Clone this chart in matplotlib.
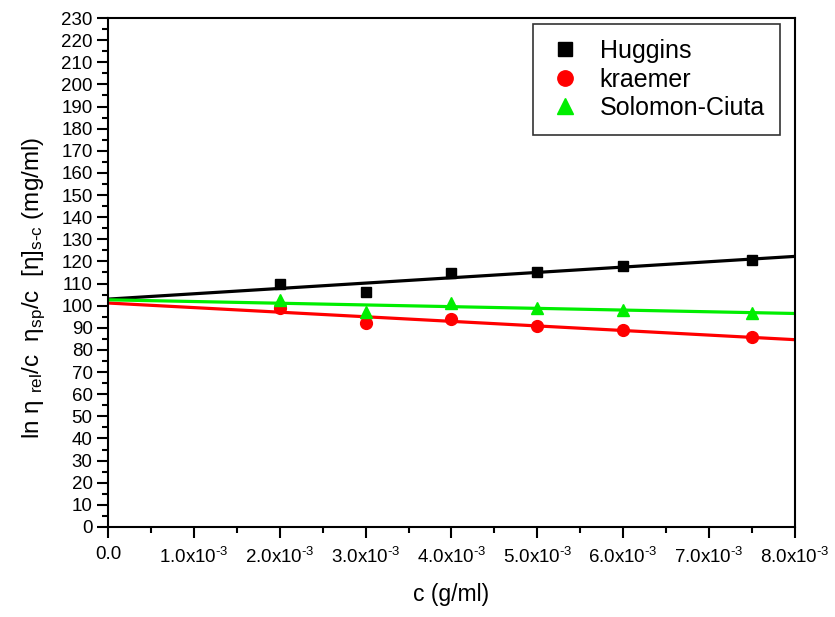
import numpy as np
import matplotlib
matplotlib.use("Agg")
import matplotlib.pyplot as plt
from matplotlib.ticker import MultipleLocator, FixedLocator

plt.rcParams['font.family'] = ['Liberation Sans', 'DejaVu Sans']
plt.rcParams['mathtext.fontset'] = 'custom'
plt.rcParams['mathtext.rm'] = 'Liberation Sans'
plt.rcParams['mathtext.it'] = 'Liberation Sans'
plt.rcParams['mathtext.bf'] = 'Liberation Sans'

# Data
conc = np.array([2.0e-3, 3.0e-3, 4.0e-3, 5.0e-3, 6.0e-3, 7.5e-3])
huggins = np.array([109.7, 106.0, 114.6, 115.4, 117.9, 120.6])
kraemer = np.array([98.8, 92.0, 94.0, 90.8, 89.0, 85.7])
solomon = np.array([102.6, 97.3, 101.1, 98.8, 98.1, 96.8])

series_names = ['Huggins', 'kraemer', 'Solomon-Ciuta']
xtick_vals = [0.0, 1e-3, 2e-3, 3e-3, 4e-3, 5e-3, 6e-3, 7e-3, 8e-3]
xtick_labels = ['0.0'] + [r'%.1fx10$^{\text{-3}}$' % v for v in [1, 2, 3, 4, 5, 6, 7, 8]]

fig = plt.figure(figsize=(8.35, 6.17), dpi=100)
ax = fig.add_axes([0.1293, 0.1459, 0.952 - 0.1293, 0.9708 - 0.1459])

colors = ['black', '#ff0000', '#00ee00']
markers = ['s', 'o', '^']
sizes = [7.5, 8.5, 9]
xfit = np.array([0.0, 8e-3])
for y, c, m, ms, name in zip([huggins, kraemer, solomon], colors, markers, sizes, series_names):
    p = np.polyfit(conc, y, 1)
    ax.plot(xfit, np.polyval(p, xfit), color=c, lw=2.3, zorder=2)
    ax.plot(conc, y, linestyle='none', marker=m, color=c, ms=ms, label=name, zorder=3)

ax.set_xlim(0, 8e-3)
ax.set_ylim(0, 230)
ax.xaxis.set_major_locator(FixedLocator(xtick_vals))
ax.set_xticklabels(xtick_labels, fontsize=13.5)
ax.xaxis.set_minor_locator(MultipleLocator(0.5e-3))
ax.yaxis.set_major_locator(MultipleLocator(10))
ax.yaxis.set_minor_locator(MultipleLocator(5))
ax.tick_params(axis='y', labelsize=13.5, pad=3)
ax.tick_params(which='major', direction='out', length=8, width=1.5)
ax.tick_params(which='minor', direction='out', length=4, width=1.5)
ax.tick_params(axis='x', which='major', pad=6)
for s in ax.spines.values():
    s.set_linewidth(1.5)

ax.set_xlabel('c (g/ml)', fontsize=16.5, labelpad=12)
ax.set_ylabel(r'ln η $_{\mathrm{rel}}$/c  η$_{\mathrm{sp}}$/c  [η]$_{\mathrm{s\text{-}c}}$ (mg/ml)',
              fontsize=17.5)
ax.yaxis.set_label_coords(-0.088, 0.47)

leg = ax.legend(loc='upper right', fontsize=18, frameon=True, fancybox=False,
                edgecolor='black', borderpad=0.6, handletextpad=0.75, labelspacing=0.18,
                borderaxespad=0, markerscale=1.3, handlelength=1.3,
                bbox_to_anchor=(0.978, 0.988))
leg.get_frame().set_linewidth(1.2)

fig.savefig('out.png', dpi=100)
